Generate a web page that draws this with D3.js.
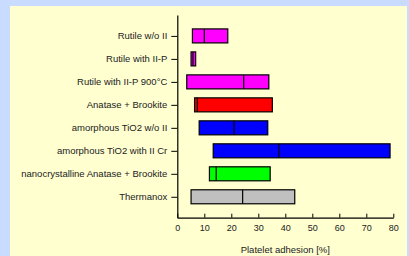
<!DOCTYPE html>
<html>
<head>
<meta charset="utf-8">
<script src="https://cdn.jsdelivr.net/npm/d3@7"></script>
<style>
  body { margin: 0; background: #c9dcff; }
  text { font-family: "Liberation Sans", Arial, sans-serif; fill: #222; }
</style>
</head>
<body>
<div id="chart"></div>
<script>
// categories, top to bottom
var categories = [
    "Rutile w/o II",
    "Rutile with II-P",
    "Rutile with II-P 900°C",
    "Anatase + Brookite",
    "amorphous TiO2 w/o II",
    "amorphous TiO2 with II Cr",
    "nanocrystalline Anatase + Brookite",
    "Thermanox"
];
// bar start, median, bar end (platelet adhesion %)
var lowValues = [5.6, 5.1, 3.5, 6.4, 8.1, 13.3, 11.9, 5.1];
var medValues = [10.0, 5.8, 24.6, 7.4, 21.0, 37.6, 14.4, 24.2];
var highValues = [18.7, 6.8, 33.9, 35.2, 33.5, 78.8, 34.4, 43.5];
var barColors = ["#ff00ff", "#ff00ff", "#ff00ff", "#ff0000", "#0000ff", "#0000ff", "#00ff00", "#c0c0c0"];
var xTicks = [0, 10, 20, 30, 40, 50, 60, 70, 80];
var xTitle = "Platelet adhesion [%]";

var W = 409, H = 256;

var svg = d3.select("#chart")
    .append("svg")
    .attr("width", W)
    .attr("height", H);

// yellow panel
svg.append("rect")
    .attr("x", 10)
    .attr("y", 6)
    .attr("width", 397)
    .attr("height", 260)
    .attr("fill", "#ffffd0");

var x = d3.scaleLinear()
    .domain([0, 80])
    .range([177.3, 393.3]);

var y = d3.scalePoint()
    .domain(categories)
    .range([15, 217.7])
    .padding(0.91);

var barH = 14;

var data = categories.map(function (c, i) {
    return { name: c, lo: lowValues[i], med: medValues[i], hi: highValues[i], color: barColors[i] };
});

// bars
svg.append("g")
    .selectAll("rect")
    .data(data)
    .enter()
    .append("rect")
    .attr("x", d => x(d.lo))
    .attr("y", d => y(d.name) - barH / 2)
    .attr("width", d => x(d.hi) - x(d.lo))
    .attr("height", barH)
    .attr("fill", d => d.color)
    .attr("stroke", "#000")
    .attr("stroke-width", 1.2);

// median lines
svg.append("g")
    .selectAll("line")
    .data(data)
    .enter()
    .append("line")
    .attr("x1", d => x(d.med))
    .attr("x2", d => x(d.med))
    .attr("y1", d => y(d.name) - barH / 2)
    .attr("y2", d => y(d.name) + barH / 2)
    .attr("stroke", "#000")
    .attr("stroke-width", 1.2);

// x axis, ticks pointing up
var xAxis = svg.append("g")
    .attr("transform", "translate(0,217.7)")
    .call(d3.axisBottom(x).tickValues(xTicks).tickSizeInner(-4).tickSizeOuter(0).tickPadding(7));

// y axis
var yAxis = svg.append("g")
    .attr("transform", "translate(177.3,0)")
    .call(d3.axisLeft(y).tickSizeInner(6).tickSizeOuter(0).tickPadding(4));

[xAxis, yAxis].forEach(function (a) {
    a.select(".domain").attr("stroke", "#000").attr("stroke-width", 1.2);
    a.selectAll(".tick line").attr("stroke", "#000");
    a.selectAll(".tick text")
        .attr("font-size", 9.5)
        .attr("font-family", "'Liberation Sans', Arial, sans-serif")
        .attr("fill", "#222");
});
xAxis.selectAll(".tick text").attr("font-size", 9);

svg.append("text")
    .attr("x", (x(0) + x(80)) / 2)
    .attr("y", 253)
    .attr("text-anchor", "middle")
    .attr("font-size", 9.5)
    .text(xTitle);
</script>
</body>
</html>
